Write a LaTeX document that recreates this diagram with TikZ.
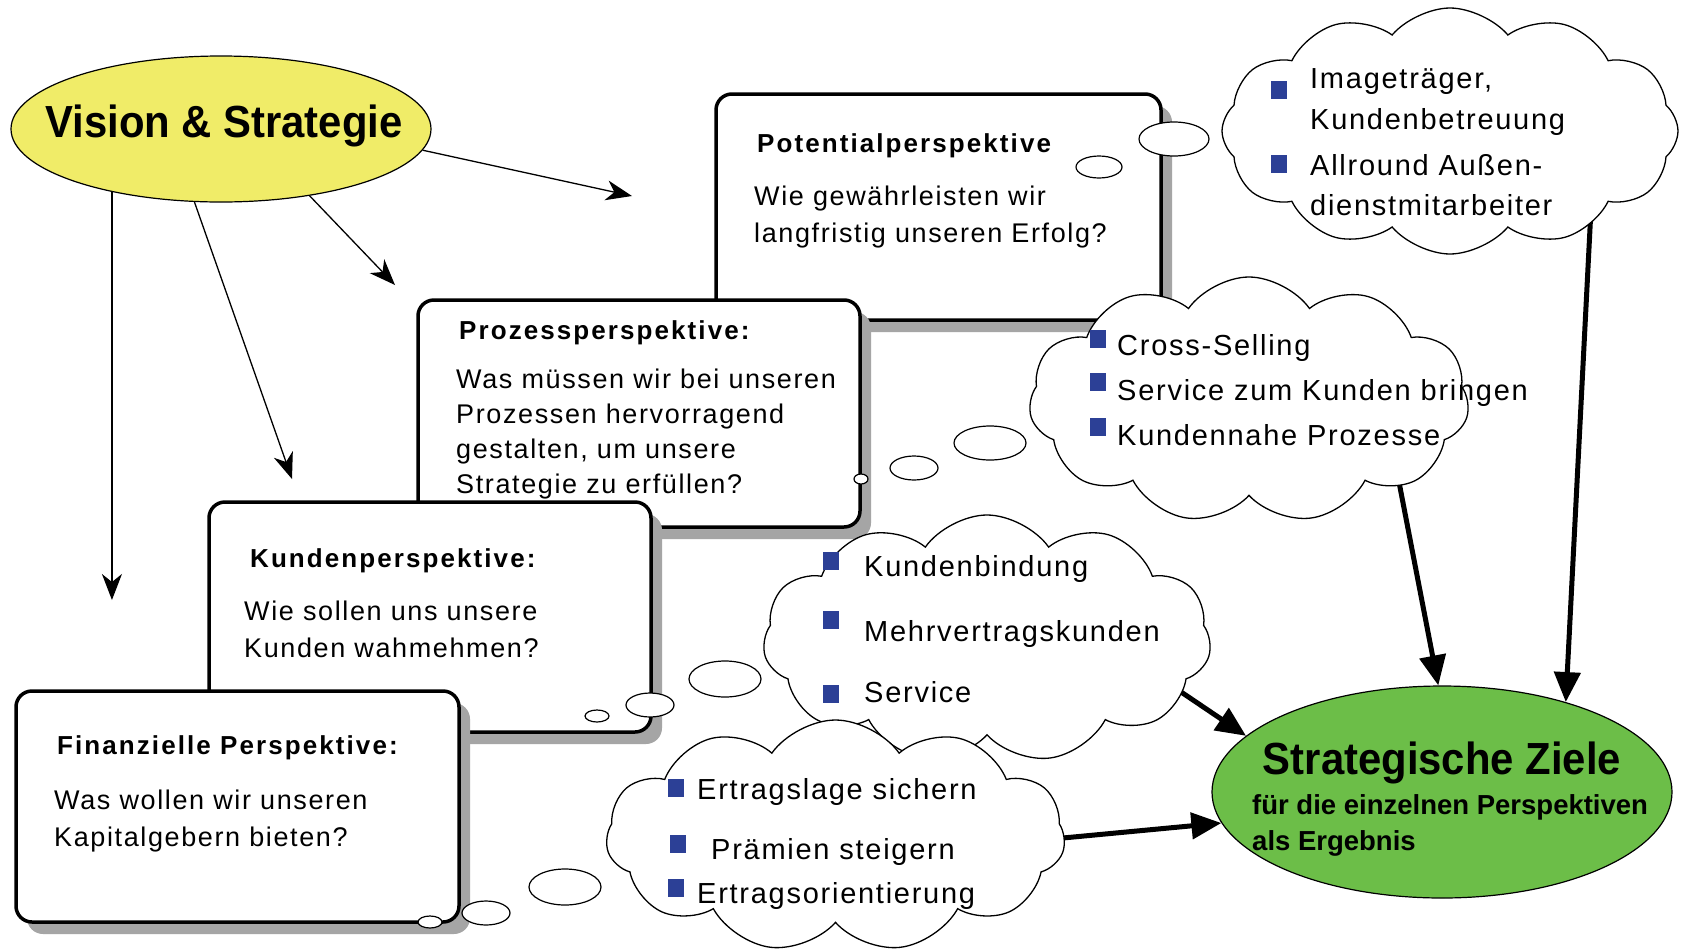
\documentclass[tikz,border=0pt]{standalone}
\usepackage{fontspec}
\setmainfont{Liberation Sans}
\newfontfamily\bodyfont[LetterSpace=6]{Liberation Sans}
\newfontfamily\titlefont[LetterSpace=8]{Liberation Sans}
\newfontfamily\bignarrow[FakeStretch=0.93]{Liberation Sans}
\usetikzlibrary{shapes.geometric,shapes.symbols,arrows.meta,shadows,calc}
\definecolor{visyellow}{RGB}{240,236,104}
\definecolor{goalgreen}{RGB}{108,190,72}
\definecolor{bulletblue}{RGB}{44,64,150}
\definecolor{shadowgray}{RGB}{165,165,165}
\tikzset{
  persp/.style={rectangle, draw=black, line width=3.5pt, fill=white, rounded corners=16pt,
    drop shadow={shadow xshift=11pt, shadow yshift=-12pt, fill=shadowgray, opacity=1}},
  bubble/.style={ellipse, draw=black, line width=1.2pt, fill=white, inner sep=0pt},
  cloudbox/.style={cloud, cloud puffs=11, cloud puff arc=110, cloud ignores aspect,
    draw=black, line width=1.3pt, fill=white, inner sep=0pt},
  thinarrow/.style={line width=1.3pt, -{Stealth[length=26pt,width=20pt,inset=8pt]}},
  thickarrow/.style={line width=5pt, -{Triangle[length=30pt,width=26pt]}},
  ttl/.style={anchor=base west, inner sep=0pt, font=\titlefont\bfseries\fontsize{26}{30}\selectfont},
  body/.style={anchor=base west, inner sep=0pt, align=left, font=\bodyfont\fontsize{27}{37.5}\selectfont},
  cltext/.style={anchor=base west, inner sep=0pt, align=left, font=\bodyfont\fontsize{29}{41}\selectfont},
  bullet/.style={fill=bulletblue, minimum width=16pt, minimum height=18pt, inner sep=0pt, rectangle},
}
\begin{document}
\begin{tikzpicture}[x=1pt,y=-1pt]
\useasboundingbox (0,0) rectangle (1681,951);
\fill[white] (0,0) rectangle (1681,951);

% Vision & Strategie
\node[ellipse, draw=black, line width=1.2pt, fill=visyellow, minimum width=420pt, minimum height=146pt] (vis) at (221,129) {};
\node[anchor=base, inner sep=0pt, font=\bignarrow\bfseries\fontsize{45}{50}\selectfont] (vistext) at (224,137) {Vision \& Strategie};

\coordinate (t1) at (111,600);
\coordinate (t2) at (292,479);
\coordinate (t3) at (395,285);
\coordinate (t4) at (632,196);
\draw[thinarrow] (vis.210) -- (vis.210 |- t1);
\draw[thinarrow] (vis.250) -- (t2);
\draw[thinarrow] (vis.323) -- (t3);
\draw[thinarrow] (vis.354) -- (t4);

% Perspective boxes (multi-line texts are placed by the baseline of their last line)
\node[persp, minimum width=445pt, minimum height=226pt] (pot) at (938.5,207) {};
\node[ttl] (pottitle) at (757,152) {Potentialperspektive};
\node[body] (potbody) at (754,242.5) {Wie gewährleisten wir\\langfristig unseren Erfolg?};

\node[persp, minimum width=442pt, minimum height=227pt] (pro) at (639,413.5) {};
\node[ttl] (protitle) at (459,339) {Prozessperspektive:};
\node[body, font=\bodyfont\fontsize{27}{35}\selectfont] (probody) at (456,493) {Was müssen wir bei unseren\\Prozessen hervorragend\\gestalten, um unsere\\Strategie zu erfüllen?};

\node[persp, minimum width=442pt, minimum height=230pt] (kun) at (430,617) {};
\node[ttl] (kuntitle) at (250,567) {Kundenperspektive:};
\node[body] (kunbody) at (244,657.5) {Wie sollen uns unsere\\Kunden wahmehmen?};

\node[persp, minimum width=443pt, minimum height=231pt] (fin) at (237.5,806.5) {};
\node[ttl] (fintitle) at (57,754) {Finanzielle Perspektive:};
\node[body] (finbody) at (54,846.5) {Was wollen wir unseren\\Kapitalgebern bieten?};

% thought bubbles
\node[bubble, minimum width=70pt, minimum height=34pt] (pb1) at (1174,139) {};
\node[bubble, minimum width=46pt, minimum height=22pt] (pb2) at (1099,167) {};
\node[bubble, minimum width=14pt, minimum height=10pt] (rb1) at (861,479) {};
\node[bubble, minimum width=48pt, minimum height=24pt] (rb2) at (914,468) {};
\node[bubble, minimum width=72pt, minimum height=34pt] (rb3) at (990,443) {};
\node[bubble, minimum width=24pt, minimum height=12pt] (kb1) at (597,716) {};
\node[bubble, minimum width=48pt, minimum height=24pt] (kb2) at (650,705) {};
\node[bubble, minimum width=72pt, minimum height=36pt] (kb3) at (725,679) {};
\node[bubble, minimum width=24pt, minimum height=12pt] (fb1) at (430,922) {};
\node[bubble, minimum width=48pt, minimum height=24pt] (fb2) at (486,913) {};
\node[bubble, minimum width=72pt, minimum height=36pt] (fb3) at (565,887) {};

% Strategische Ziele
\node[ellipse, draw=black, line width=1.2pt, fill=goalgreen, minimum width=460pt, minimum height=212pt] (goal) at (1442,792) {};
\node[anchor=base, inner sep=0pt, font=\bignarrow\bfseries\fontsize{45}{50}\selectfont] (goaltitle) at (1442,774) {Strategische Ziele};
\node[anchor=base west, inner sep=0pt, align=left, font=\bfseries\fontsize{27.5}{36}\selectfont] (goalsub) at (1252,850) {für die einzelnen Perspektiven\\als Ergebnis};

% clouds (arrows first, the clouds cover their starts)
\coordinate (c1c) at (1450,131);
\coordinate (c2c) at (1249,400);
\coordinate (c3c) at (987,639);
\coordinate (c4c) at (835.5,836);
\draw[thickarrow] ($(c1c)+(144,19)$) -- (goal.36);
\draw[thickarrow] ($(c2c)+(138,20)$) -- (goal.92);
\draw[thickarrow] ($(c3c)+(163,32)$) -- (goal.164);
\draw[thickarrow] ($(c4c)+(185,6)$) -- (goal.188);

\node[cloudbox, cloud puffs=12, cloud puff arc=100, minimum width=456pt, minimum height=246pt] (c1) at (c1c) {};
\node[cloudbox, minimum width=440pt, minimum height=246pt] (c2) at (c2c) {};
\node[cloudbox, minimum width=448pt, minimum height=248pt] (c3) at (c3c) {};
\node[cloudbox, minimum width=459pt, minimum height=232pt] (c4) at (c4c) {};

% cloud 1
\node[bullet] (b11) at (1279,90) {};
\node[bullet] (b12) at (1279,164) {};
\node[cltext] (t11) at (1310,129) {Imageträger,\\Kundenbetreuung};
\node[cltext, font=\bodyfont\fontsize{29}{40}\selectfont] (t12) at (1310,215) {Allround Außen-\\dienstmitarbeiter};
% cloud 2
\node[bullet] (b21) at (1098,339) {};
\node[bullet] (b22) at (1098,382) {};
\node[bullet] (b23) at (1098,427) {};
\node[cltext] (t21) at (1117,355) {Cross-Selling};
\node[cltext] (t22) at (1117,400) {Service zum Kunden bringen};
\node[cltext] (t23) at (1117,445) {Kundennahe Prozesse};
% cloud 3
\node[bullet] (b31) at (831,561) {};
\node[bullet] (b32) at (831,620) {};
\node[bullet] (b33) at (831,694) {};
\node[cltext] (t31) at (864,576) {Kundenbindung};
\node[cltext] (t32) at (864,641) {Mehrvertragskunden};
\node[cltext] (t33) at (864,702) {Service};
% cloud 4
\node[bullet] (b41) at (676,788) {};
\node[bullet] (b42) at (678,844) {};
\node[bullet] (b43) at (676,888) {};
\node[cltext] (t41) at (697,799) {Ertragslage sichern};
\node[cltext] (t42) at (711,859) {Prämien steigern};
\node[cltext] (t43) at (697,903) {Ertragsorientierung};
\end{tikzpicture}
\end{document}
